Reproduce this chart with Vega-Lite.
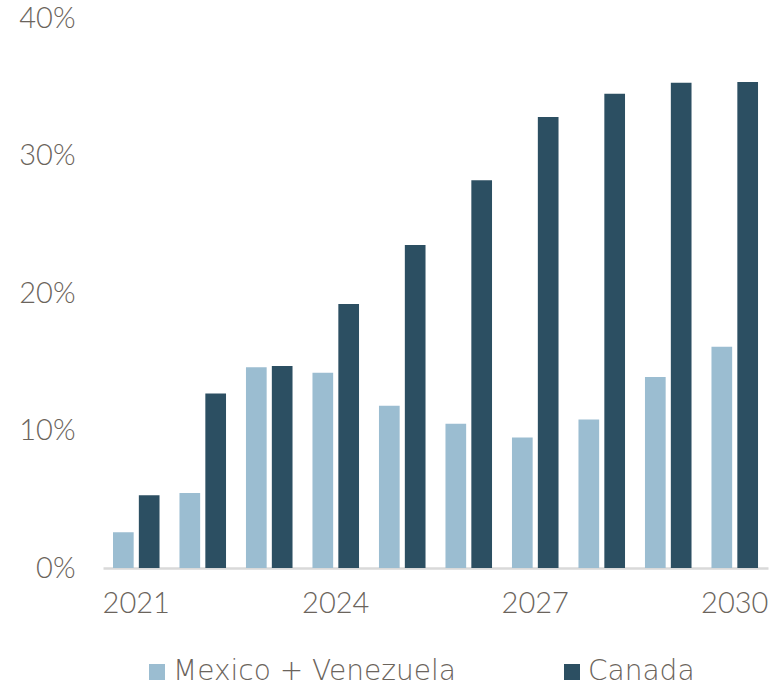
{
  "$schema": "https://vega.github.io/schema/vega-lite/v6.json",
  "width": 665,
  "height": 550,
  "autosize": {"type": "none"},
  "padding": {"left": 103, "top": 18, "right": 6, "bottom": 118},
  "background": "white",
  "config": {
    "view": {"stroke": null},
    "font": "Lato",
    "axis": {"labelFont": "Lato", "labelFontWeight": 300, "labelColor": "#6b645c", "labelFontSize": 29, "grid": false, "ticks": false, "tickSize": 0, "title": null},
    "legend": {"labelFont": "DejaVu Sans", "labelFontWeight": 200, "labelColor": "#6b645c", "labelFontSize": 28, "labelLimit": 0}
  },
  "data": {
    "values": [
      {"year": "2021", "series": "Mexico + Venezuela", "value": 0.026},
      {"year": "2021", "series": "Canada", "value": 0.053},
      {"year": "2022", "series": "Mexico + Venezuela", "value": 0.0545},
      {"year": "2022", "series": "Canada", "value": 0.127},
      {"year": "2023", "series": "Mexico + Venezuela", "value": 0.146},
      {"year": "2023", "series": "Canada", "value": 0.147},
      {"year": "2024", "series": "Mexico + Venezuela", "value": 0.142},
      {"year": "2024", "series": "Canada", "value": 0.192},
      {"year": "2025", "series": "Mexico + Venezuela", "value": 0.118},
      {"year": "2025", "series": "Canada", "value": 0.235},
      {"year": "2026", "series": "Mexico + Venezuela", "value": 0.105},
      {"year": "2026", "series": "Canada", "value": 0.282},
      {"year": "2027", "series": "Mexico + Venezuela", "value": 0.095},
      {"year": "2027", "series": "Canada", "value": 0.328},
      {"year": "2028", "series": "Mexico + Venezuela", "value": 0.108},
      {"year": "2028", "series": "Canada", "value": 0.345},
      {"year": "2029", "series": "Mexico + Venezuela", "value": 0.139},
      {"year": "2029", "series": "Canada", "value": 0.353},
      {"year": "2030", "series": "Mexico + Venezuela", "value": 0.161},
      {"year": "2030", "series": "Canada", "value": 0.3535}
    ]
  },
  "mark": {"type": "bar"},
  "encoding": {
    "x": {
      "field": "year", "type": "nominal",
      "scale": {"paddingInner": 0.3, "paddingOuter": 0.15},
      "axis": {"values": ["2021", "2024", "2027", "2030"], "labelAngle": 0, "labelPadding": 21, "domain": true, "domainColor": "#d9d9d9", "domainWidth": 2.5}
    },
    "xOffset": {"field": "series", "type": "nominal", "sort": ["Mexico + Venezuela", "Canada"], "scale": {"paddingInner": 0.2}},
    "y": {
      "field": "value", "type": "quantitative",
      "scale": {"domain": [0, 0.4]},
      "axis": {"values": [0, 0.1, 0.2, 0.3, 0.4], "format": ".0%", "domain": false, "labelPadding": 28}
    },
    "color": {
      "field": "series", "type": "nominal",
      "sort": ["Mexico + Venezuela", "Canada"],
      "scale": {"domain": ["Mexico + Venezuela", "Canada"], "range": ["#9bbdd1", "#2c4f62"]},
      "legend": {"orient": "none", "legendX": 40, "legendY": 640, "direction": "horizontal", "title": null, "symbolType": "square", "symbolSize": 256, "symbolStrokeWidth": 0, "columnPadding": 102, "labelOffset": 2}
    }
  }
}
